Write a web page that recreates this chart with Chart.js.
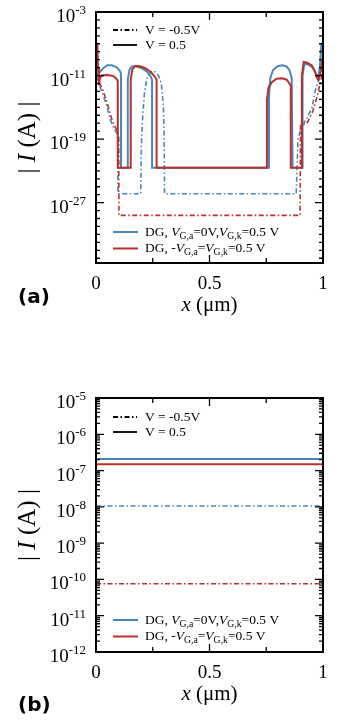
<!DOCTYPE html>
<html>
<head>
<meta charset="utf-8">
<script src="https://cdn.jsdelivr.net/npm/chart.js@4.4.0/dist/chart.umd.min.js"></script>
<style>
    html, body { margin: 0; padding: 0; background: #fff; }
    body { width: 339px; height: 728px; position: relative; overflow: hidden; }
    canvas { position: absolute; left: 0; }
    #chartA { top: 0; width: 339px; height: 340px; }
    #chartB { top: 340px; width: 339px; height: 388px; }
</style>
</head>
<body>
<canvas id="chartA" width="339" height="340"></canvas>
<canvas id="chartB" width="339" height="388"></canvas>
<script>
// ---- panel (a) data: x in um, |I| in A ----
const aRedSolidX  = [0, 0.006, 0.009, 0.013, 0.017, 0.025, 0.05, 0.075, 0.09, 0.096, 0.096,
                     0.153, 0.153, 0.16, 0.172, 0.19, 0.215, 0.24, 0.258, 0.267, 0.267,
                     0.753, 0.753, 0.76, 0.775, 0.795, 0.82, 0.84, 0.852, 0.858, 0.858,
                     0.907, 0.907, 0.915, 0.93, 0.95, 0.965, 0.975, 0.98, 0.99, 1.0];
const aRedSolidY  = [1.3e-7, 1e-7, 1e-10, 6e-13, 4e-12, 1e-11, 1.2e-11, 9e-12, 4e-12, 2e-12, 2.5e-23,
                     2.5e-23, 3e-12, 6e-11, 1.5e-10, 1.6e-10, 9e-11, 3e-11, 8e-12, 3e-12, 2.5e-23,
                     2.5e-23, 8e-15, 3e-13, 1.5e-12, 4e-12, 4.5e-12, 3e-12, 1e-12, 5e-13, 2.5e-23,
                     2.5e-23, 1e-11, 5e-10, 4e-10, 2e-10, 3e-11, 4e-12, 3e-12, 3e-11, 4e-9];

const aBlueSolidX = [0, 0.006, 0.018, 0.03, 0.05, 0.07, 0.09, 0.105, 0.11, 0.11,
                     0.14, 0.14, 0.148, 0.16, 0.175, 0.2, 0.225, 0.24, 0.247, 0.247,
                     0.762, 0.762, 0.768, 0.78, 0.8, 0.82, 0.838, 0.852, 0.862, 0.866,
                     0.91, 0.91, 0.918, 0.935, 0.955, 0.97, 0.978, 0.986, 0.993, 1.0];
const aBlueSolidY = [6e-10, 1e-10, 3e-11, 8e-11, 2e-10, 2e-10, 1.2e-10, 4e-11, 2e-11, 2.5e-23,
                     2.5e-23, 3e-12, 6e-11, 1.5e-10, 1.6e-10, 9e-11, 3e-11, 8e-12, 3e-12, 2.5e-23,
                     2.5e-23, 2e-14, 5e-12, 5e-11, 1.5e-10, 2e-10, 1.5e-10, 5e-11, 5e-12, 2.5e-23,
                     2.5e-23, 1e-11, 3e-10, 2.5e-10, 1e-10, 1.5e-11, 4e-12, 1e-10, 1e-7, 1.3e-7];

const aBlueDashX  = [0, 0.009, 0.025, 0.045, 0.062, 0.08, 0.095, 0.097,
                     0.197, 0.2, 0.206, 0.214, 0.225, 0.24, 0.26, 0.275, 0.288, 0.297, 0.3, 0.302,
                     0.882, 0.89, 0.905, 0.93, 0.952, 0.965, 0.978, 0.99, 1.0];
const aBlueDashY  = [1e-11, 2e-12, 1e-13, 3e-15, 3e-17, 2e-18, 4e-19, 1.3e-26,
                     1.3e-26, 3e-20, 1e-16, 1e-13, 5e-12, 3e-11, 3e-11, 1e-11, 1e-12, 1e-15, 1e-18, 1.3e-26,
                     1.3e-26, 1e-19, 3e-18, 5e-17, 1e-15, 1e-13, 1.5e-12, 1e-11, 5e-11];

const aRedDashX   = [0, 0.009, 0.03, 0.05, 0.07, 0.09, 0.1, 0.101,
                     0.899, 0.901, 0.93, 0.955, 0.975, 0.99, 1.0];
const aRedDashY   = [3e-11, 3e-12, 1.5e-13, 3e-15, 3e-17, 1.5e-18, 3e-19, 2.5e-29,
                     2.5e-29, 5e-18, 1e-17, 3e-16, 3e-14, 2e-12, 5e-11];

// ---- panel (b) data ----
const bX         = [0, 1];
const bBlueSolid = [2.1e-7, 2.1e-7];
const bRedSolid  = [1.5e-7, 1.5e-7];
const bBlueDash  = [1.06e-8, 1.06e-8];
const bRedDash   = [7.6e-11, 7.6e-11];

// ---- axes / tick labels ----
const xTickValues = [0, 0.5, 1];
const xTickLabels = ['0', '0.5', '1'];
const xMinorTicks = [0.25, 0.75];
const aYLabelExp  = [-3, -11, -19, -27];
const bYLabelExp  = [-5, -6, -7, -8, -9, -10, -11, -12];

const BLUE = '#4a87b9';
const RED = '#b8312f';
const SERIF = '"Liberation Serif", "Times New Roman", serif';
const DASHDOT = [5, 2.5, 1.5, 2.5];

const pts = (xs, ys) => xs.map((x, i) => ({ x: x, y: ys[i] }));

function lineSet(xs, ys, color, dashed) {
    return {
        data: pts(xs, ys),
        borderColor: color,
        borderWidth: dashed ? 1.6 : 2,
        borderDash: dashed ? DASHDOT : [],
        pointRadius: 0,
        tension: 0,
        fill: false
    };
}

// draws text pieces with italics and subscripts, left to right
function drawRich(ctx, x, y, parts, size) {
    let cx = x;
    parts.forEach(p => {
        const fs = p.sub ? size * 0.72 : size;
        ctx.font = (p.it ? 'italic ' : '') + fs + 'px ' + SERIF;
        ctx.fillText(p.t, cx, y + (p.sub ? size * 0.3 : 0));
        cx += ctx.measureText(p.t).width;
    });
}

const legendBlue = [{ t: 'DG, ' }, { t: 'V', it: true }, { t: 'G,a', sub: true }, { t: '=0V,' },
                    { t: 'V', it: true }, { t: 'G,k', sub: true }, { t: '=0.5 V' }];
const legendRed  = [{ t: 'DG, -' }, { t: 'V', it: true }, { t: 'G,a', sub: true }, { t: '=' },
                    { t: 'V', it: true }, { t: 'G,k', sub: true }, { t: '=0.5 V' }];

function framePlugin(cfg) {
    return {
        id: 'frame' + cfg.tag,
        afterDraw(chart) {
            const ctx = chart.ctx;
            const a = chart.chartArea;
            const xs = chart.scales.x;
            const ys = chart.scales.y;
            ctx.save();
            ctx.strokeStyle = '#000';
            ctx.fillStyle = '#000';
            ctx.setLineDash([]);

            // y ticks (inward, both sides)
            ctx.lineWidth = 1.3;
            ctx.beginPath();
            cfg.yTicks.forEach(t => {
                const p = ys.getPixelForValue(t.v);
                ctx.moveTo(a.left, p); ctx.lineTo(a.left + t.len, p);
                ctx.moveTo(a.right, p); ctx.lineTo(a.right - t.len, p);
            });
            // x ticks (inward, top and bottom)
            xTickValues.concat(xMinorTicks).forEach(v => {
                const p = xs.getPixelForValue(v);
                const len = v === 0.5 ? 8 : 5;
                ctx.moveTo(p, a.bottom); ctx.lineTo(p, a.bottom - len);
                ctx.moveTo(p, a.top); ctx.lineTo(p, a.top + len);
            });
            ctx.stroke();

            ctx.lineWidth = 2;
            ctx.strokeRect(a.left, a.top, a.right - a.left, a.bottom - a.top);

            // y tick labels 10^n
            ctx.textAlign = 'left';
            ctx.textBaseline = 'alphabetic';
            cfg.yLabelExp.forEach(e => {
                const p = ys.getPixelForValue(Math.pow(10, e));
                const es = String(e);
                ctx.font = '13px ' + SERIF;
                const ew = ctx.measureText(es).width;
                ctx.font = '19px ' + SERIF;
                const bw = ctx.measureText('10').width;
                const x0 = a.left - 10 - ew - bw;
                ctx.fillText('10', x0, p + 10);
                ctx.font = '13px ' + SERIF;
                ctx.fillText(es, x0 + bw, p + 2);
            });

            // x tick labels
            ctx.textAlign = 'center';
            ctx.textBaseline = 'middle';
            ctx.font = '19px ' + SERIF;
            xTickValues.forEach((v, i) => {
                ctx.fillText(xTickLabels[i], xs.getPixelForValue(v), a.bottom + 21);
            });

            // x axis title
            ctx.textAlign = 'left';
            ctx.textBaseline = 'alphabetic';
            ctx.font = 'italic 21px ' + SERIF;
            const w1 = ctx.measureText('x').width;
            ctx.font = '21px ' + SERIF;
            const w2 = ctx.measureText(' (\u03bcm)').width;
            const tx = (a.left + a.right) / 2 - (w1 + w2) / 2;
            ctx.font = 'italic 21px ' + SERIF;
            ctx.fillText('x', tx, a.bottom + 48);
            ctx.font = '21px ' + SERIF;
            ctx.fillText(' (\u03bcm)', tx + w1, a.bottom + 48);

            // y axis title, rotated
            ctx.save();
            ctx.translate(28, (a.top + a.bottom) / 2);
            ctx.rotate(-Math.PI / 2);
            ctx.textBaseline = 'middle';
            const yParts = [{ t: '| ' }, { t: 'I', it: true }, { t: ' (A) |' }];
            let tw = 0;
            yParts.forEach(p => { ctx.font = (p.it ? 'italic ' : '') + '25px ' + SERIF; tw += ctx.measureText(p.t).width; });
            drawRich(ctx, -tw / 2, 0, yParts, 25);
            ctx.restore();

            // panel tag
            ctx.font = 'bold 20px "DejaVu Sans", sans-serif';
            ctx.fillText(cfg.tag, 18, a.bottom + cfg.tagDy);

            // legends
            ctx.textBaseline = 'middle';
            const lx0 = a.left + 17, lx1 = a.left + 41, tx0 = a.left + 49;
            ctx.lineWidth = 1.8;
            ctx.strokeStyle = '#000';
            ctx.setLineDash(DASHDOT);
            ctx.beginPath(); ctx.moveTo(lx0, a.top + cfg.leg1); ctx.lineTo(lx1, a.top + cfg.leg1); ctx.stroke();
            ctx.setLineDash([]);
            ctx.beginPath(); ctx.moveTo(lx0, a.top + cfg.leg1 + 15); ctx.lineTo(lx1, a.top + cfg.leg1 + 15); ctx.stroke();
            drawRich(ctx, tx0, a.top + cfg.leg1, [{ t: 'V = -0.5V' }], 13.5);
            drawRich(ctx, tx0, a.top + cfg.leg1 + 15, [{ t: 'V = 0.5' }], 13.5);

            ctx.lineWidth = 2;
            ctx.strokeStyle = BLUE;
            ctx.beginPath(); ctx.moveTo(lx0, a.bottom - cfg.leg2); ctx.lineTo(lx1 + 1, a.bottom - cfg.leg2); ctx.stroke();
            ctx.strokeStyle = RED;
            ctx.beginPath(); ctx.moveTo(lx0, a.bottom - cfg.leg2 + 16.5); ctx.lineTo(lx1 + 1, a.bottom - cfg.leg2 + 16.5); ctx.stroke();
            drawRich(ctx, tx0, a.bottom - cfg.leg2, legendBlue, 13.5);
            drawRich(ctx, tx0, a.bottom - cfg.leg2 + 16.5, legendRed, 13.5);
            ctx.restore();
        }
    };
}

function baseOptions(yMin, yMax, pad) {
    return {
        responsive: false,
        animation: false,
        layout: { padding: pad },
        plugins: { legend: { display: false }, tooltip: { enabled: false } },
        scales: {
            x: { type: 'linear', min: 0, max: 1, display: false },
            y: { type: 'logarithmic', min: yMin, max: yMax, display: false }
        }
    };
}

// tick marks: major decades longer, minor shorter
const aYTicks = [];
for (let e = -34; e <= -3; e++) {
    aYTicks.push({ v: Math.pow(10, e), len: aYLabelExp.includes(e) ? 8 : 4 });
}
const bYTicks = [];
for (let e = -12; e <= -5; e++) {
    bYTicks.push({ v: Math.pow(10, e), len: 8 });
    if (e < -5) for (let k = 2; k <= 9; k++) bYTicks.push({ v: k * Math.pow(10, e), len: 4 });
}

new Chart(document.getElementById('chartA').getContext('2d'), {
    type: 'line',
    data: {
        datasets: [
            lineSet(aRedSolidX, aRedSolidY, RED, false),
            lineSet(aBlueSolidX, aBlueSolidY, BLUE, false),
            lineSet(aRedDashX, aRedDashY, RED, true),
            lineSet(aBlueDashX, aBlueDashY, BLUE, true)
        ]
    },
    options: baseOptions(Math.pow(10, -34.6), 1e-3, { left: 96, right: 16, top: 12, bottom: 77 }),
    plugins: [framePlugin({ tag: '(a)', yTicks: aYTicks, yLabelExp: aYLabelExp, tagDy: 40, leg1: 18, leg2: 31 })]
});

new Chart(document.getElementById('chartB').getContext('2d'), {
    type: 'line',
    data: {
        datasets: [
            lineSet(bX, bRedSolid, RED, false),
            lineSet(bX, bBlueSolid, BLUE, false),
            lineSet(bX, bRedDash, RED, true),
            lineSet(bX, bBlueDash, BLUE, true)
        ]
    },
    options: baseOptions(1e-12, 1e-5, { left: 96, right: 16, top: 58, bottom: 76 }),
    plugins: [framePlugin({ tag: '(b)', yTicks: bYTicks, yLabelExp: bYLabelExp, tagDy: 59, leg1: 19, leg2: 32 })]
});
</script>
</body>
</html>
